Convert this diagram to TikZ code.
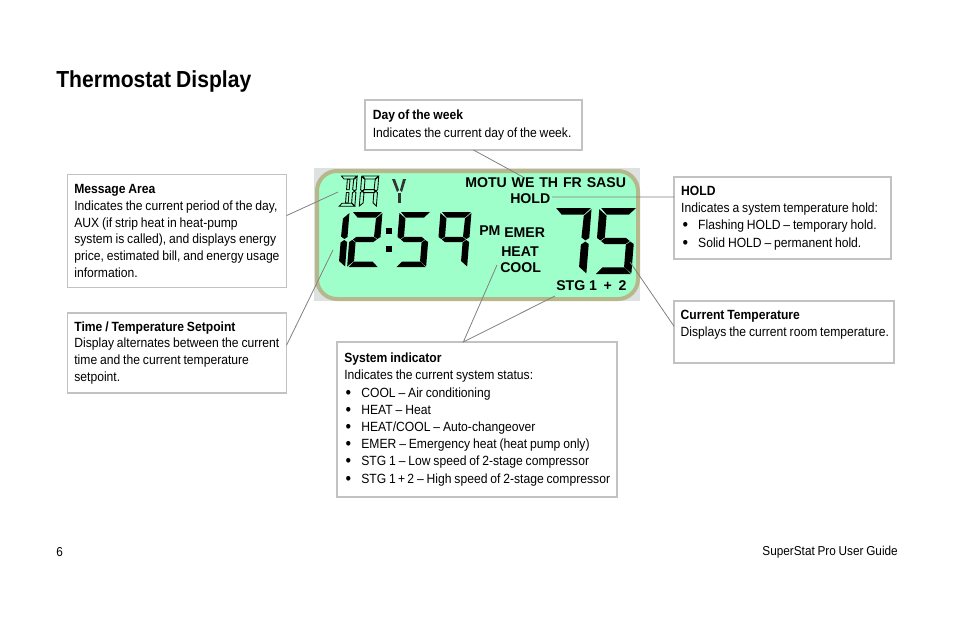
\documentclass[tikz,border=0pt]{standalone}
\usepackage{fontspec}
\setmainfont[FakeStretch=0.91, WordSpace=0.85]{Liberation Sans}
\newfontfamily\lcdfont{Liberation Sans}[BoldFont={Liberation Sans Bold}]

\definecolor{boxgray}{HTML}{C2C2C2}
\definecolor{linegray}{HTML}{808080}
\definecolor{lcdgreen}{HTML}{9FFFCB}
\definecolor{lcdrim}{HTML}{B7B78C}
\definecolor{lcdback}{HTML}{DDE1E1}

\tikzset{
	infobox/.style={draw=boxgray, line width=0.8pt, outer sep=0pt, inner xsep=0pt, inner ysep=0pt, align=flush left, font=\fontsize{10}{12.9}\selectfont},
	tightbox/.style={infobox, font=\fontsize{10}{12.7}\selectfont},
	callout/.style={draw=linegray, line width=0.6pt},
	lcdtext/.style={inner sep=0pt, font=\lcdfont\bfseries\fontsize{10.6}{12}\selectfont},
	pagetext/.style={inner sep=0pt, font=\fontsize{9.7}{12.9}\selectfont},
	lcdsolid/.style={fill=black},
	lcdhollow/.style={draw=black, line width=0.65pt, fill=none}
}

\newcommand{\bul}[1]{\mbox{\makebox[12.75pt][l]{\hspace{1pt}\raisebox{-0.7pt}{\fontsize{13}{12}\selectfont\textbullet}}#1}}

\newcommand{\sega}{\path[lcdseg] (1,0) -- (30,0) -- (24.5,5.5) -- (6,5.5) -- cycle;}
\newcommand{\segb}{\path[lcdseg] (30.5,1) -- (24.5,6.5) -- (24,24.5) -- (27.5,27) -- (30.5,25) -- cycle;}
\newcommand{\segc}{\path[lcdseg] (30.5,30) -- (27.5,28) -- (24,30.5) -- (24,49) -- (30.5,54.5) -- cycle;}
\newcommand{\segd}{\path[lcdseg] (1,55) -- (30,55) -- (24.5,49.5) -- (6,49.5) -- cycle;}
\newcommand{\sege}{\path[lcdseg] (-0.5,30) -- (2.5,28) -- (6,30.5) -- (6,49) -- (-0.5,54.5) -- cycle;}
\newcommand{\segf}{\path[lcdseg] (-0.5,1) -- (6,6.5) -- (6,24.5) -- (2.5,27) -- (-0.5,25) -- cycle;}
\newcommand{\segg}{\path[lcdseg] (3,27.5) -- (6.5,24.8) -- (23.5,24.8) -- (27,27.5) -- (23.5,30.2) -- (6.5,30.2) -- cycle;}
\newcommand{\segh}{\path[lcdseg] (12.5,6) -- (17.5,6) -- (17.5,25) -- (12.5,25) -- cycle;}
\newcommand{\segi}{\path[lcdseg] (12.5,30) -- (17.5,30) -- (17.5,49) -- (12.5,49) -- cycle;}

\newcommand{\lcddigit}[6][lcdsolid]{
	\begin{scope}[shift={(#2,#3)}, xscale=#4, yscale=#5, xslant=0.08, lcdseg/.style={#1}]
		\foreach \s in {#6} {\csname seg\s\endcsname}
	\end{scope}
}

\begin{document}
\begin{tikzpicture}[x=0.75pt, y=-0.75pt]
	\useasboundingbox (0,0) rectangle (954,618);

	\node[inner sep=0pt, anchor=west, font=\bfseries\fontsize{17.4}{20}\selectfont] (title) at (56,81) {Thermostat Display};

	\fill[lcdback] (314,168) rectangle (640,301);
	\draw[lcdrim, fill=lcdgreen, line width=3pt, rounded corners=15pt] (317,171) rectangle (638,299);

	\lcddigit[lcdhollow]{341}{176}{0.53}{0.55}{a,b,c,d,h,i}
	\lcddigit[lcdhollow]{362}{176}{0.55}{0.55}{a,b,c,e,f,g}
	\fill[black!80] (392,179) -- (395,179) -- (399,190) -- (397,192) -- cycle;
	\fill[black!80] (406,179) -- (403,179) -- (400,190) -- (402,192) -- cycle;
	\fill[black!80] (397.5,193) rectangle (401,203);

	\lcddigit{319}{212}{1}{1}{b,c}
	\lcddigit{352}{212}{1}{1}{a,b,g,e,d}
	\fill (386,228) rectangle (392,234);
	\fill (386,246) rectangle (392,252);
	\lcddigit{400}{212}{1}{1}{a,f,g,c,d}
	\lcddigit{441}{212}{1}{1}{a,b,c,f,g}

	\lcddigit{555}{208}{1.2}{1.2}{a,b,c}
	\lcddigit{600}{208}{1.2}{1.2}{a,f,g,c,d}

	\node[lcdtext, anchor=west] (days) at (465,183) {MOTU\hspace{0.7pt} WE\hspace{0.7pt} TH\hspace{0.7pt} FR\hspace{0.7pt} SASU};
	\node[lcdtext, anchor=west] (hold) at (510,199) {HOLD};
	\node[lcdtext, anchor=west] (pm) at (479,231) {PM};
	\node[lcdtext, anchor=west] (emer) at (504,233) {EMER};
	\node[lcdtext, anchor=west] (heat) at (501,252) {HEAT};
	\node[lcdtext, anchor=west] (cool) at (500,268) {COOL};
	\node[lcdtext, anchor=west] (stg) at (556,286) {STG 1\hspace{2pt} +\hspace{2pt} 2};

	\coordinate (dayend) at (523,177);
	\coordinate (messageend) at (338,192);
	\coordinate (timeend) at (333,250);
	\coordinate (tempend) at (630,262);
	\coordinate (holdend) at (552,197);
	\coordinate (coolend) at (497,265);
	\coordinate (stgend) at (555,296);

	\node[infobox, minimum width=162.75pt, minimum height=37.5pt, text width=151pt] (daybox) at (473.5,125) {\textbf{Day of the week}\\Indicates the current day of the week.};

	\node[tightbox, minimum width=164.25pt, minimum height=84.75pt, text width=154pt] (messagebox) at (177,231) {\textbf{Message Area}\\Indicates the current period of the day,\\AUX (if strip heat in heat-pump\\system is called), and displays energy\\price, estimated bill, and energy usage\\information.};

	\node[tightbox, minimum width=164.25pt, minimum height=60pt, text width=154pt] (timebox) at (177,353) {\textbf{Time / Temperature Setpoint}\\Display alternates between the current\\time and the current temperature\\setpoint.};

	\node[infobox, minimum width=210pt, minimum height=116.25pt, text width=199pt] (systembox) at (477,419.5) {\textbf{System indicator}\\Indicates the current system status:\\\bul{COOL -- Air conditioning}\\\bul{HEAT -- Heat}\\\bul{HEAT/COOL -- Auto-changeover}\\\bul{EMER -- Emergency heat (heat pump only)}\\\bul{STG 1 -- Low speed of 2-stage compressor}\\\bul{STG 1\,+\,2 -- High speed of 2-stage compressor}};

	\node[infobox, minimum width=162.75pt, minimum height=61.5pt, text width=152pt] (holdbox) at (782.5,218) {\textbf{HOLD}\\Indicates a system temperature hold:\\\bul{Flashing HOLD -- temporary hold.}\\\bul{Solid HOLD -- permanent hold.}};

	\node[infobox, minimum width=165pt, minimum height=46.5pt, text width=155pt] (tempbox) at (784,332) {\textbf{Current Temperature}\\\mbox{Displays the current room temperature.}\\~};

	\draw[callout] (daybox.south) -- (dayend);
	\draw[callout] (messagebox.8) -- (messageend);
	\draw[callout] (timebox.4) -- (timeend);
	\draw[callout] (holdbox.169) -- (holdend);
	\draw[callout] (tempbox.177) -- (tempend);
	\draw[callout] (coolend) -- (systembox.100) -- (stgend);

	\node[pagetext, anchor=west] (pagenum) at (56,552) {6};
	\node[pagetext, anchor=east] (guide) at (898,552) {SuperStat Pro User Guide};
\end{tikzpicture}
\end{document}
